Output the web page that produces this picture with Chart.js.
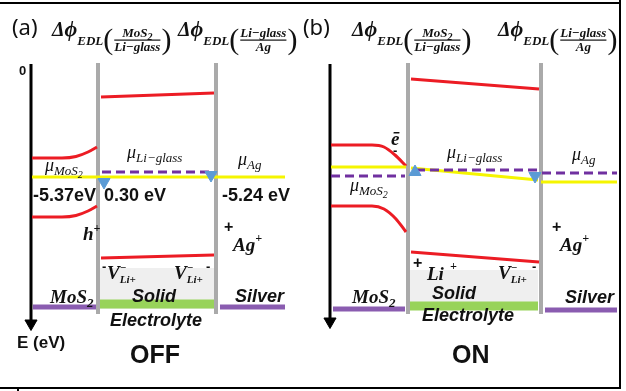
<!DOCTYPE html>
<html>
<head>
<meta charset="utf-8">
<script src="https://cdn.jsdelivr.net/npm/chart.js@4.4.1/dist/chart.umd.min.js"></script>
<style>
  html, body { margin: 0; padding: 0; background: #fff; }
  canvas { display: block; }
</style>
</head>
<body>
<canvas id="band" width="626" height="391"></canvas>
<script>
// Energy band diagram of the MoS2 / Li-glass / Ag stack, OFF (a) and ON (b)
// figure units: x to the right, energy (E) grows downwards

// (a) OFF state
const offAxis = [[31, 64], [31, 320]];
const offArrow = [[31, 323.5]];
const offWallL = [[98, 63], [98, 314]];
const offWallR = [[216, 63], [216, 314]];
const offCB = [[101, 97], [214, 93]];
const offVB = [[101, 258], [214, 255]];
const offMosUpper = [[32, 158], [62, 158], [76, 156.5], [88, 152], [97, 147]];
const offMosLower = [[32, 217], [62, 217], [76, 215.5], [88, 211], [97, 206]];
const offFermi = [[32, 177], [285, 177]];
const offMuGlass = [[102, 172], [210, 172]];
const offEdlDown = [[104, 182], [211, 175]];
const offShade = [[100, 268], [214, 268]];
const offBandMos = [[33, 307], [97, 307]];
const offBandGlass = [[100, 304], [214, 304]];
const offBandAg = [[220, 307], [285, 307]];

// (b) ON state
const onAxis = [[330, 64], [330, 318]];
const onArrow = [[330, 321.5]];
const onWallL = [[408, 63], [408, 314]];
const onWallR = [[541, 63], [541, 314]];
const onCB = [[411, 79], [539, 89]];
const onVB = [[411, 252], [539, 262]];
const onMosUpper = [[331, 145], [372, 145], [384, 147], [395, 155], [406, 166]];
const onMosLower = [[331, 206], [372, 206], [384, 209], [396, 219], [406, 232]];
const onFermiMos = [[331, 167], [406, 167]];
const onFermiGlass = [[411, 168], [538, 180]];
const onFermiAg = [[541, 182], [617, 182]];
const onMuMos = [[331, 176], [405, 176]];
const onMuGlass = [[416, 170], [538, 170]];
const onMuAg = [[542, 173], [617, 173]];
const onEdlUp = [[415, 172]];
const onEdlDown = [[535, 176]];
const onShade = [[410, 270], [538, 270]];
const onBandMos = [[333, 309], [405, 309]];
const onBandGlass = [[410, 306], [538, 306]];
const onBandAg = [[545, 310], [617, 310]];

const RED = '#ec1c24';
const YELLOW = '#f5f500';
const PURPLE = '#7030a0';
const BLUE = '#5b9bd5';
const GREY = '#aaaaaa';
const BAND_PURPLE = '#8a5cb0';
const BAND_GREEN = '#98d35a';

const SANS = '"Liberation Sans", Arial, sans-serif';
const SERIF = '"Liberation Serif", "DejaVu Serif", serif';

function toXY(arr) {
    return arr.map(p => ({ x: p[0], y: p[1] }));
}

function line(arr, color, width, extra) {
    return Object.assign({
        data: toXY(arr),
        showLine: true,
        borderColor: color,
        borderWidth: width,
        pointRadius: 0,
        fill: false
    }, extra || {});
}

function marker(arr, color, radius, rotation) {
    return {
        data: toXY(arr),
        showLine: false,
        pointStyle: 'triangle',
        pointRadius: radius,
        pointRotation: rotation,
        backgroundColor: color,
        borderColor: color,
        borderWidth: 1
    };
}

// light grey shading at the foot of the electrolyte box
function shade(arr) {
    return {
        data: toXY(arr),
        showLine: true,
        borderWidth: 0,
        borderColor: 'rgba(0,0,0,0)',
        pointRadius: 0,
        backgroundColor: 'rgba(120,120,120,0.12)',
        fill: { value: 309 }
    };
}

const curve = { tension: 0.4, cubicInterpolationMode: 'monotone' };
const dashed = { borderDash: [9, 5] };

// listed back to front
const layers = [
    // OFF
    shade(offShade),
    line(offBandMos, BAND_PURPLE, 5),
    line(offBandGlass, BAND_GREEN, 9),
    line(offBandAg, BAND_PURPLE, 5),
    line(offWallL, GREY, 4),
    line(offWallR, GREY, 4),
    line(offAxis, '#000', 3),
    marker(offArrow, '#000', 7, 180),
    line(offCB, RED, 3),
    line(offVB, RED, 3),
    line(offMosUpper, RED, 3, curve),
    line(offMosLower, RED, 3, curve),
    line(offFermi, YELLOW, 3),
    line(offMuGlass, PURPLE, 3, dashed),
    marker(offEdlDown, BLUE, 7, 180),

    // ON
    shade(onShade),
    line(onBandMos, BAND_PURPLE, 5),
    line(onBandGlass, BAND_GREEN, 9),
    line(onBandAg, BAND_PURPLE, 5),
    line(onWallL, GREY, 4),
    line(onWallR, GREY, 4),
    line(onAxis, '#000', 3),
    marker(onArrow, '#000', 7, 180),
    line(onCB, RED, 3),
    line(onVB, RED, 3),
    line(onMosUpper, RED, 3, curve),
    line(onMosLower, RED, 3, curve),
    line(onFermiMos, YELLOW, 3),
    line(onFermiGlass, YELLOW, 3),
    line(onFermiAg, YELLOW, 3),
    line(onMuMos, PURPLE, 3, dashed),
    line(onMuGlass, PURPLE, 3, dashed),
    line(onMuAg, PURPLE, 3, dashed),
    marker(onEdlUp, BLUE, 7, 0),
    marker(onEdlDown, BLUE, 7, 180)
];
// Chart.js paints dataset 0 last (on top)
const datasets = layers.slice().reverse();

// text helpers -------------------------------------------------------------
function runs(ctx, x, y, parts) {
    let cx = x;
    parts.forEach(p => {
        ctx.font = p.f;
        const w = ctx.measureText(p.t).width;
        if (p.stack) {
            // superscript and subscript on the same spot
            ctx.fillText(p.t, cx, y + p.dy);
            ctx.font = p.stack.f;
            ctx.fillText(p.stack.t, cx, y + p.stack.dy);
            cx += Math.max(w, ctx.measureText(p.stack.t).width);
        } else {
            ctx.fillText(p.t, cx + (p.dx || 0), y + (p.dy || 0));
            cx += w + (p.dx || 0);
        }
    });
    return cx - x;
}

function measure(ctx, parts) {
    let w = 0;
    parts.forEach(p => {
        ctx.font = p.f;
        let pw = ctx.measureText(p.t).width;
        if (p.stack) {
            ctx.font = p.stack.f;
            pw = Math.max(pw, ctx.measureText(p.stack.t).width);
        }
        w += pw + (p.dx || 0);
    });
    return w;
}

const bi = s => 'bold italic ' + s + 'px ' + SERIF;
const bs = s => 'bold ' + s + 'px ' + SANS;
const bis = s => 'bold italic ' + s + 'px ' + SANS;
const it = s => 'italic ' + s + 'px ' + SERIF;

function mu(ctx, x, y, sub, sub2) {
    const parts = [{ t: 'μ', f: it(18) }, { t: sub, f: it(13), dy: 4 }];
    if (sub2) parts.push({ t: sub2, f: it(10), dy: 7 });
    runs(ctx, x, y, parts);
}

function delta(ctx, x, y, num, den) {
    let cx = x;
    cx += runs(ctx, cx, y, [{ t: 'Δ', f: bi(20) }, { t: 'ϕ', f: bi(22) }]);
    cx += runs(ctx, cx, y, [{ t: 'EDL', f: bi(13), dy: 9 }]);
    ctx.font = '30px ' + SERIF;
    ctx.fillText('(', cx, y + 13);
    cx += ctx.measureText('(').width + 1;
    const wn = measure(ctx, num), wd = measure(ctx, den);
    const w = Math.max(wn, wd);
    runs(ctx, cx + (w - wn) / 2, y + 1, num);
    runs(ctx, cx + (w - wd) / 2, y + 15, den);
    ctx.fillRect(cx, y + 3.5, w, 1.2);
    cx += w + 1;
    ctx.font = '30px ' + SERIF;
    ctx.fillText(')', cx, y + 13);
}

function vacancy(ctx, x, y) {
    runs(ctx, x, y, [
        { t: 'V', f: bi(19) },
        { t: '−', f: bi(11), dy: -8, stack: { t: 'Li+', f: bi(11), dy: 4 } }
    ]);
}

const fracMos = [{ t: 'MoS', f: bi(13) }, { t: '2', f: bi(10), dy: 3 }];
const fracGlass = [{ t: 'Li−glass', f: bi(13) }];
const fracAg = [{ t: 'Ag', f: bi(13) }];

const textPlugin = {
    id: 'bandText',
    afterDatasetsDraw(chart) {
        const ctx = chart.ctx;
        const xs = chart.scales.x, ys = chart.scales.y;
        const X = v => xs.getPixelForValue(v);
        const Y = v => ys.getPixelForValue(v);
        const txt = (t, x, y, f) => { ctx.font = f; ctx.fillText(t, X(x), Y(y)); };

        ctx.save();
        ctx.fillStyle = '#111';
        ctx.textBaseline = 'alphabetic';
        ctx.textAlign = 'left';

        // headers
        txt('(a)', 12, 35, '22px "Noto Sans", sans-serif');
        txt('(b)', 303, 35, '22px "Noto Sans", sans-serif');
        delta(ctx, X(52), Y(36), fracMos, fracGlass);
        delta(ctx, X(178), Y(36), fracGlass, fracAg);
        delta(ctx, X(352), Y(36), fracMos, fracGlass);
        delta(ctx, X(498), Y(36), fracGlass, fracAg);

        // (a) OFF
        txt('0', 19, 75, bs(13));
        mu(ctx, X(45), Y(171), 'MoS', '2');
        mu(ctx, X(127), Y(158), 'Li−glass');
        mu(ctx, X(238), Y(165), 'Ag');
        txt('-5.37eV', 33, 201, bs(18));
        txt('0.30 eV', 104, 201, bs(18));
        txt('-5.24 eV', 222, 201, bs(18));
        runs(ctx, X(83), Y(240), [{ t: 'h', f: bi(19) }, { t: '+', f: bi(12), dy: -8 }]);
        txt('+', 224, 232, bs(16));
        runs(ctx, X(233), Y(251), [{ t: 'Ag', f: bi(19) }, { t: '+', f: bi(12), dy: -9 }]);
        txt('-', 102, 271, bs(13));
        vacancy(ctx, X(107), Y(279));
        vacancy(ctx, X(174), Y(279));
        txt('-', 206, 271, bs(13));
        runs(ctx, X(50), Y(303), [{ t: 'MoS', f: bi(19) }, { t: '2', f: bi(13), dy: 4 }]);
        txt('Solid', 132, 302, bis(18));
        txt('Silver', 235, 302, bis(18));
        txt('Electrolyte', 110, 326, bis(18));
        txt('E (eV)', 17, 348, bs(17));
        txt('OFF', 130, 363, bs(25));

        // (b) ON
        txt('ē', 391, 145, bi(19));
        txt('-', 393, 155, bs(13));
        mu(ctx, X(447), Y(158), 'Li−glass');
        mu(ctx, X(572), Y(160), 'Ag');
        mu(ctx, X(350), Y(191), 'MoS', '2');
        txt('+', 552, 232, bs(16));
        runs(ctx, X(560), Y(251), [{ t: 'Ag', f: bi(19) }, { t: '+', f: bi(12), dy: -9 }]);
        txt('+', 413, 268, bs(16));
        runs(ctx, X(427), Y(280), [{ t: 'Li', f: bi(19) }, { t: '+', f: bi(12), dx: 6, dy: -10 }]);
        vacancy(ctx, X(498), Y(279));
        txt('-', 532, 271, bs(13));
        runs(ctx, X(352), Y(303), [{ t: 'MoS', f: bi(19) }, { t: '2', f: bi(13), dy: 4 }]);
        txt('Solid', 432, 299, bis(18));
        txt('Silver', 565, 303, bis(18));
        txt('Electrolyte', 422, 321, bis(18));
        txt('ON', 452, 363, bs(25));

        ctx.restore();
    },
    afterDraw(chart) {
        // figure frame: open on the left, small tick under the bottom edge
        const ctx = chart.ctx;
        ctx.save();
        ctx.fillStyle = '#000';
        ctx.fillRect(0, 2, 621, 2);
        ctx.fillRect(619, 0, 2, 389);
        ctx.fillRect(0, 387, 621, 2);
        ctx.fillRect(17, 387, 2, 4);
        ctx.restore();
    }
};

new Chart(document.getElementById('band'), {
    type: 'scatter',
    data: { datasets: datasets },
    options: {
        responsive: false,
        animation: false,
        devicePixelRatio: 1,
        layout: { padding: 0, autoPadding: false },
        plugins: {
            legend: { display: false },
            tooltip: { enabled: false }
        },
        scales: {
            x: { type: 'linear', min: 0, max: 626, display: false },
            y: { type: 'linear', min: 0, max: 391, reverse: true, display: false }
        }
    },
    plugins: [textPlugin]
});
</script>
</body>
</html>
